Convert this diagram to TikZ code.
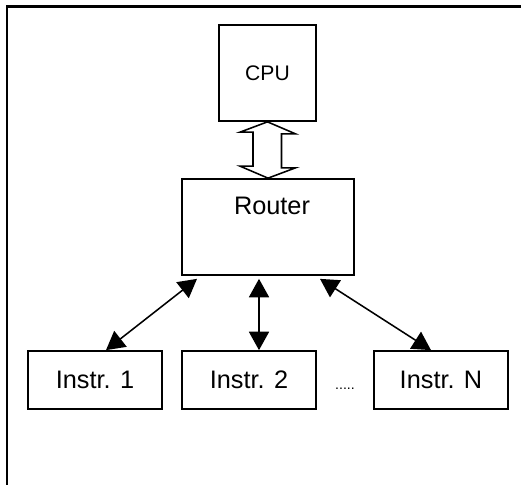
\documentclass[tikz,border=0pt]{standalone}
\usepackage{fontspec}
\setmainfont{Liberation Sans}
\usetikzlibrary{arrows.meta,calc}

\begin{document}
\begin{tikzpicture}[x=0.025cm, y=-0.025cm,
		unit/.style={draw, rectangle, line width=1.2pt, inner sep=0pt},
		instr/.style={unit, minimum width=3.35cm, minimum height=1.45cm, font=\fontsize{18}{20}\selectfont},
		link/.style={line width=1.1pt, {Triangle[length=4.6mm,width=5mm]}-{Triangle[length=4.6mm,width=5mm]}}]
	\useasboundingbox (0,0) rectangle (521,485);
	\draw[line width=1.8pt] (7,485) -- (7,6.5) -- (521,6.5);
	\node[unit, minimum width=2.425cm, minimum height=2.4cm, font=\fontsize{15}{17}\selectfont] (cpu) at (267.5,73) {CPU};
	\node[unit, minimum width=4.3cm, minimum height=2.4cm] (router) at (268,227) {};
	\node[anchor=base, font=\fontsize{18}{20}\selectfont] (routertext) at (272,215) {Router};
	\node[instr] (i1) at (95,380) {Instr. 1};
	\node[instr] (i2) at (249,380) {Instr. 2};
	\node[instr] (iN) at (441,380) {Instr. N};
	\node[anchor=base, font=\fontsize{10}{12}\selectfont] (dots) at (345,390) {.....};
	\draw[line width=1.1pt] (cpu.south) -- ++(28,12) -- ++(-14,0) -- ++(0,34) -- ++(14,0) -- (router.north) -- ++(-28,-12) -- ++(13,0) -- ++(0,-34) -- ++(-13,0) -- cycle;
	\draw[link] ($(router.south)+(-71,3)$) -- ($(i1.north)+(11,0)$);
	\draw[link] ($(router.south)+(-9,3)$) -- ($(i2.north)+(10,0)$);
	\draw[link] ($(router.south)+(52,3)$) -- ($(iN.north)+(-10,0)$);
\end{tikzpicture}
\end{document}
